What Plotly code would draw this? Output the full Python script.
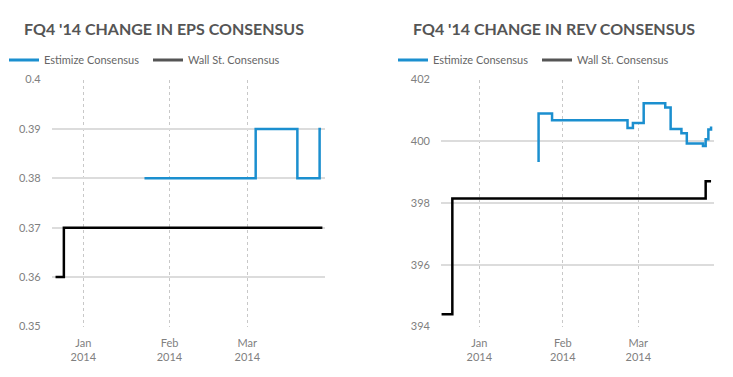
import plotly.graph_objects as go

# ---- data ----
eps_est_dates = ["2014-01-23", "2014-03-04", "2014-03-19", "2014-03-27", "2014-03-27 12:00"]
eps_est_vals = [0.38, 0.39, 0.38, 0.39, 0.39]
eps_ws_dates = ["2013-12-22", "2013-12-25", "2014-03-28"]
eps_ws_vals = [0.36, 0.37, 0.37]

rev_est_dates = ["2014-01-23", "2014-01-23", "2014-01-28", "2014-02-25", "2014-02-27",
                 "2014-03-03", "2014-03-11", "2014-03-13", "2014-03-17", "2014-03-19",
                 "2014-03-25", "2014-03-26", "2014-03-27", "2014-03-28"]
rev_est_vals = [399.33, 400.9, 400.68, 400.43, 400.59, 401.23, 401.1, 400.4, 400.26,
                399.93, 399.85, 400.07, 400.38, 400.48]
rev_ws_dates = ["2013-12-18", "2013-12-22", "2014-03-26", "2014-03-28"]
rev_ws_vals = [394.4, 398.15, 398.71, 398.71]

titles = ["FQ4 '14 CHANGE IN EPS CONSENSUS", "FQ4 '14 CHANGE IN REV CONSENSUS"]
series_names = ["Estimize Consensus", "Wall St. Consensus"]
month_ticks = ["2014-01-01", "2014-02-01", "2014-03-01"]

BLUE = "#1b8fcf"
BLACK = "#000000"
LEG_GREY = "#555555"
OFF = 8                      # page body margin
W, H = 733 - OFF, 377 - OFF  # figure size
FONT = "Lato"

def px(x):   # window x pixel -> paper fraction
    return (x - OFF) / W

def py(y):   # window y pixel -> paper fraction
    return (H - (y - OFF)) / H

fig = go.Figure()

def add_pair(est_x, est_y, ws_x, ws_y, xa, ya, leg):
    fig.add_trace(go.Scatter(x=est_x, y=est_y, mode="lines", line=dict(color=BLUE, width=2.5, shape="hv"),
                             xaxis=xa, yaxis=ya, showlegend=False, name=series_names[0]))
    fig.add_trace(go.Scatter(x=ws_x, y=ws_y, mode="lines", line=dict(color=BLACK, width=2.5, shape="hv"),
                             xaxis=xa, yaxis=ya, showlegend=False, name=series_names[1]))
    # legend entries
    fig.add_trace(go.Scatter(x=[None], y=[None], mode="lines", line=dict(color=BLUE, width=3),
                             xaxis=xa, yaxis=ya, name=series_names[0], legend=leg))
    fig.add_trace(go.Scatter(x=[None], y=[None], mode="lines", line=dict(color=LEG_GREY, width=3),
                             xaxis=xa, yaxis=ya, name=series_names[1], legend=leg))

add_pair(eps_est_dates, eps_est_vals, eps_ws_dates, eps_ws_vals, "x", "y", "legend")
add_pair(rev_est_dates, rev_est_vals, rev_ws_dates, rev_ws_vals, "x2", "y2", "legend2")

ydom = [py(326.5), py(79.6)]
xcommon = dict(tickvals=month_ticks, tickformat="%b<br>%Y", showgrid=True, griddash="dot",
               gridcolor="#c8c8c8", gridwidth=1, zeroline=False, showline=False, ticks="",
               automargin=False, ticklabelstandoff=8,
               tickfont=dict(size=11, color="#808080", family=FONT))
ycommon = dict(showgrid=True, gridcolor="#dcdcdc", gridwidth=2, zeroline=False, showline=False,
               ticks="", automargin=False, tickfont=dict(size=11, color="#808080", family=FONT),
               ticklabelstandoff=10)

legcommon = dict(orientation="h", y=py(60), xanchor="left", yanchor="middle",
                 entrywidth=99, entrywidthmode="pixels",
                 font=dict(size=11, color="#666666", family=FONT), bgcolor="rgba(0,0,0,0)")

fig.update_layout(
    width=W, height=H, margin=dict(l=0, r=0, t=0, b=0, autoexpand=False),
    paper_bgcolor="white", plot_bgcolor="white",
    font=dict(family=FONT, color="#666666"),
    xaxis=dict(domain=[px(51.7), px(325)], range=["2013-12-20 15:00", "2014-03-28 22:30"],
               anchor="y", **xcommon),
    yaxis=dict(domain=ydom, range=[0.35, 0.40], dtick=0.01, anchor="x", **ycommon),
    xaxis2=dict(domain=[px(441), px(713.7)], range=["2013-12-17 19:00", "2014-03-28 23:30"],
                anchor="y2", **xcommon),
    yaxis2=dict(domain=ydom, range=[394, 402], dtick=2, anchor="x2", **ycommon),
    legend=dict(x=px(4), **legcommon),
    legend2=dict(x=px(393), **legcommon),
    annotations=[
        dict(text=titles[0], x=px(22), y=py(29), xref="paper", yref="paper",
             xanchor="left", yanchor="middle", showarrow=False,
             font=dict(size=16, color="#555555", family=FONT, weight="bold")),
        dict(text=titles[1], x=px(411), y=py(29), xref="paper", yref="paper",
             xanchor="left", yanchor="middle", showarrow=False,
             font=dict(size=16, color="#555555", family=FONT, weight="bold")),
    ],
)

fig.write_html("out.html")
